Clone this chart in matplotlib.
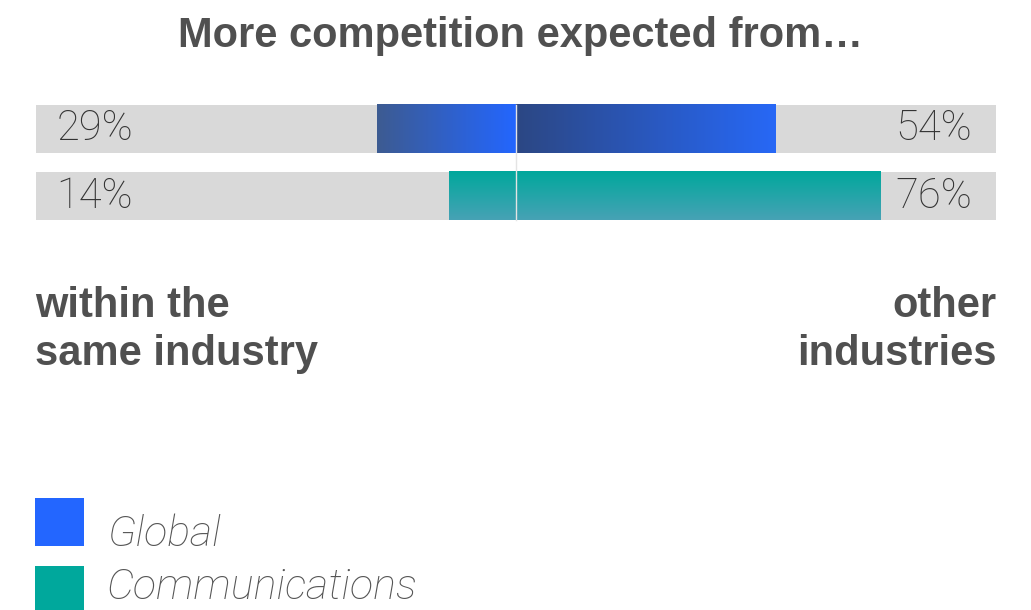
import numpy as np
import matplotlib
matplotlib.use("Agg")
import matplotlib.pyplot as plt
from matplotlib.patches import Rectangle
from matplotlib.colors import LinearSegmentedColormap

# data
series = ["Global", "Communications"]
within_same = [29, 14]     # left side
other_ind = [54, 76]       # right side
side_labels = ["within the\nsame industry", "other\nindustries"]
title = "More competition expected from\u2026"

W, H = 1031, 610
fig = plt.figure(figsize=(W / 100, H / 100), dpi=100)

# axes: -100..100 maps to the grey track
ax = fig.add_axes([36 / W, 1 - 229.5 / H, 960 / W, 134 / H])
ax.set_xlim(-100, 100)
ax.set_ylim(1.5, -0.5)
ax.axis("off")

bh = 0.72
ax.barh([0, 1], [200, 200], left=-100, height=bh, color="#d9d9d9", zorder=1)

glob_left = LinearSegmentedColormap.from_list("gl", ["#3d5b91", "#2366ff"])
glob_right = LinearSegmentedColormap.from_list("gr", ["#2c4783", "#2768f6"])
teal = LinearSegmentedColormap.from_list("tl", ["#00a89c", "#47a2b5"])

hgrad = np.linspace(0, 1, 256).reshape(1, -1)
vgrad = np.linspace(0, 1, 256).reshape(-1, 1)

# Global row: horizontal gradients
ax.imshow(hgrad, cmap=glob_left, aspect="auto", zorder=2,
          extent=(-within_same[0], 0, 0 + bh / 2, 0 - bh / 2))
ax.imshow(hgrad, cmap=glob_right, aspect="auto", zorder=2,
          extent=(0, other_ind[0], 0 + bh / 2, 0 - bh / 2))
# Communications row: vertical gradient
ax.imshow(vgrad, cmap=teal, aspect="auto", zorder=2, origin="upper",
          extent=(-within_same[1], 0, 1 + bh / 2, 1 - bh / 2))
ax.imshow(vgrad, cmap=teal, aspect="auto", zorder=2, origin="upper",
          extent=(0, other_ind[1], 1 + bh / 2, 1 - bh / 2))
ax.set_xlim(-100, 100)
ax.set_ylim(1.5, -0.5)

ax.plot([0, 0], [-bh / 2, 1 + bh / 2], color="#e4e4e4", lw=1, zorder=3)

pct_font = dict(family="Roboto", fontweight="light", fontsize=30, color="#333333")
for i in range(2):
    ax.text(-95.7, i, f"{within_same[i]}%", ha="left", va="center", **pct_font)
    ax.text(95, i, f"{other_ind[i]}%", ha="right", va="center", **pct_font)

# title and side labels
bold = dict(family="Liberation Sans", fontweight="bold", color="#505050")
fig.text(521 / W, 1 - 47 / H, title, ha="center", va="baseline", fontsize=30, **bold)
fig.text(35 / W, 1 - 286 / H, side_labels[0], ha="left", va="top",
         fontsize=30, linespacing=1.25, **bold)
fig.text(997 / W, 1 - 286 / H, side_labels[1], ha="right", va="top",
         fontsize=30, linespacing=1.25, multialignment="right", **bold)

# legend
leg_colors = ["#2366ff", "#00a89c"]
leg_y = [498, 566]
text_base = [546, 599]
for name, c, y, b in zip(series, leg_colors, leg_y, text_base):
    fig.add_artist(Rectangle((35 / W, 1 - (y + 48) / H), 49 / W, 48 / H,
                             transform=fig.transFigure, color=c, lw=0))
    fig.text(107 / W, 1 - b / H, name, ha="left", va="baseline",
             family="Roboto", fontweight="light", style="italic",
             fontsize=31, color="#555555")

fig.savefig("out.png", dpi=100)
